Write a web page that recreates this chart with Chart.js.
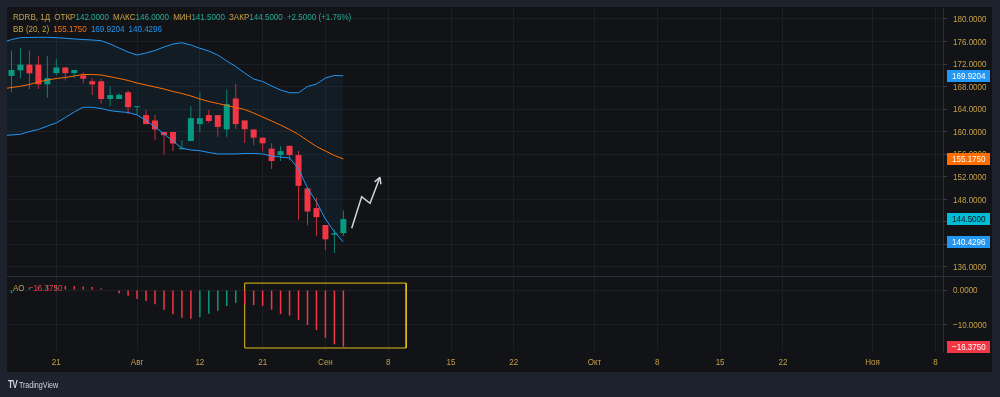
<!DOCTYPE html>
<html lang="ru">
<head>
<meta charset="utf-8">
<title>RDRB, 1Д</title>
<script src="https://cdn.jsdelivr.net/npm/chart.js@4.4.1/dist/chart.umd.min.js"></script>
<style>
  html, body { margin: 0; padding: 0; }
  body {
    width: 1000px; height: 397px; background: #1e222d; position: relative; overflow: hidden;
    font-family: 'Liberation Sans', Arial, sans-serif;
  }
  #box { position: absolute; left: 7px; top: 7px; width: 985px; height: 365px; background: #121316; }
  #mainChart { position: absolute; left: 7px; top: 8px; }
  #aoChart { position: absolute; left: 7px; top: 277px; }
  #sep { position: absolute; left: 7px; top: 276px; width: 985px; height: 1px; background: #2a2e39; }
  .legend {
    position: absolute; left: 13px; font-size: 9.8px; line-height: 12px; color: #c4a04a;
    white-space: nowrap; transform: scaleX(0.82); transform-origin: 0 0;
  }
  .legend .v { margin-right: 5px; }
  #tv { position: absolute; left: 8px; top: 378px; font-size: 9.5px; color: #d1d4dc; transform: scaleX(0.75); transform-origin: 0 0; }
  #tv b { font-size: 11px; letter-spacing: -1px; }
</style>
</head>
<body>
<div id="box"></div>
<canvas id="mainChart" width="986" height="268"></canvas>
<div id="sep"></div>
<canvas id="aoChart" width="986" height="95"></canvas>
<div class="legend" id="legend1" style="top:11px"></div>
<div class="legend" id="legend2" style="top:23px"></div>
<div class="legend" id="legend3" style="top:282px"></div>
<div id="tv"><b>TV</b> TradingView</div>
<script>
// свечи RDRB, 1Д (14.07 – 03.09)
const opens  = [169.9, 170.9, 171.9, 171.9, 168.4, 170.4, 171.4, 170.4, 170.0, 168.95,
                168.95, 165.8, 165.8, 167.0, 164.35, 162.95, 162.0, 159.95, 159.95, 156.9,
                158.35, 161.35, 162.95, 162.95, 160.4, 165.9, 162.0, 160.4, 158.95, 157.0,
                155.85, 157.5, 155.85, 149.95, 146.45, 143.45, 141.75, 142.0];
const highs  = [174.4, 174.9, 174.4, 173.5, 173.4, 172.9, 171.5, 171.0, 170.5, 169.5,
                169.4, 168.0, 166.8, 167.3, 164.5, 163.9, 162.95, 160.0, 160.0, 158.5,
                164.5, 166.95, 163.9, 162.95, 167.5, 168.5, 162.0, 160.4, 158.95, 157.95,
                157.4, 157.5, 156.6, 149.95, 148.35, 143.45, 142.6, 146.0];
const lows   = [167.0, 169.5, 167.6, 167.6, 166.0, 170.0, 169.1, 169.6, 168.6, 166.5,
                165.0, 164.5, 165.8, 163.1, 163.0, 161.35, 158.5, 155.9, 156.6, 156.9,
                158.35, 159.95, 161.55, 159.1, 159.1, 160.5, 158.0, 157.6, 156.5, 153.4,
                154.8, 154.95, 144.4, 143.4, 141.55, 139.0, 138.5, 141.5];
const closes = [170.95, 171.9, 170.35, 168.4, 169.5, 171.4, 170.4, 170.95, 169.4, 168.4,
                165.8, 166.5, 166.55, 164.35, 164.45, 161.35, 160.4, 159.4, 157.9, 157.1,
                162.4, 162.4, 161.9, 160.85, 164.9, 161.35, 160.45, 158.95, 157.95, 154.8,
                156.55, 155.85, 150.4, 145.85, 144.85, 140.9, 142.0, 144.5];

// BB (20, 2): первое значение — бар перед первой видимой свечой
const bbStart = -1;
const bbUpper = [175.83, 176.36, 176.68, 176.72, 176.75, 176.75, 176.68, 176.58, 176.45, 176.36,
                 176.27, 176.15, 175.56, 174.85, 174.14, 173.61, 173.97, 174.41, 175.03, 175.56,
                 175.79, 175.39, 174.80, 174.32, 173.61, 172.55, 171.57, 170.42, 169.35, 168.91,
                 168.11, 167.40, 166.92, 166.92, 168.02, 168.47, 169.53, 169.98, 169.9204];
const bbBasis = [167.58, 167.85, 168.06, 168.38, 168.82, 169.18, 169.44, 169.62, 169.89, 170.15,
                 170.15, 170.06, 169.76, 169.44, 169.09, 168.64, 168.29, 167.93, 167.58, 167.14,
                 166.78, 166.34, 165.81, 165.36, 165.01, 164.65, 164.30, 163.94, 163.32, 162.61,
                 161.90, 161.19, 160.39, 159.51, 158.44, 157.38, 156.58, 155.78, 155.175];
const bbLower = [159.33, 159.42, 159.54, 160.04, 160.39, 161.01, 161.55, 162.52, 163.50, 164.33,
                 164.33, 164.12, 163.73, 163.55, 163.41, 162.97, 161.99, 160.84, 159.60, 158.35,
                 157.06, 156.76, 156.63, 156.31, 156.05, 156.05, 156.05, 156.14, 156.14, 156.05,
                 155.69, 155.51, 155.34, 153.39, 150.01, 147.53, 144.51, 142.21, 140.4296];

// Awesome Oscillator
const aoValues = [-0.95, -0.2, 0.6, 1.0, 1.3, 1.4, 1.2, 1.15, 1.0, 0.9,
                  0.5, 0.15, -0.95, -1.65, -2.6, -3.2, -4.1, -5.8, -7.0, -8.0,
                  -8.3, -7.8, -6.85, -6.0, -4.6, -3.7, -4.1, -4.35, -4.6, -5.7,
                  -6.95, -7.4, -8.7, -10.1, -11.6, -13.8, -15.7, -16.375];

// шкалы
const timeTicks  = [5, 14, 21, 28, 35, 42, 49, 56, 65, 72, 79, 86, 96, 103];
const timeLabels = ['21', 'Авг', '12', '21', 'Сен', '8', '15', '22', 'Окт', '8', '15', '22', 'Ноя', '8'];
const priceTicks = [136, 140, 144, 148, 152, 156, 160, 164, 168, 172, 176, 180];
const aoTicks    = [0, -10];

// рисунки пользователя: стрелка и прямоугольник (бар, цена)
const arrowTimes  = [37.93, 39.04, 39.97, 41.08];
const arrowPrices = [142.86, 148.47, 147.30, 151.91];
const boxTimes  = [26.0, 44.0];
const boxValues = [2.0, -16.76];

// видимый диапазон
const xMin = -0.5, xMax = 103.85;
const priceMin = 134.40, priceMax = 181.95;
const aoMin = -17.63, aoMax = 3.76;

const green = '#089981', red = '#f23645';
const greenWick = '#0a8571', redWick = '#c42e3b';
const gold = '#c4a04a';
const gridColor = '#1d1f24';
const sepColor = '#2a2e39';
const labelFont = '9.8px "Liberation Sans", Arial, sans-serif';
const textScale = 0.82;   // подписи на скриншоте сжаты по горизонтали

Chart.defaults.animation = false;

function fmt(v) {
    return v.toFixed(4).replace('-', '−');
}

function narrowText(ctx, text, x, y, color, align) {
    ctx.save();
    ctx.fillStyle = color;
    ctx.textAlign = align;
    ctx.textBaseline = 'middle';
    ctx.translate(x, y);
    ctx.scale(textScale, 1);
    ctx.fillText(text, 0, 0);
    ctx.restore();
}

const isUp = i => closes[i] >= opens[i];
const bodyColor = ctx => isUp(ctx.dataIndex) ? green : red;
const wickColor = ctx => isUp(ctx.dataIndex) ? greenWick : redWick;
const aoColor = ctx => {
    const i = ctx.dataIndex;
    return (i === 0 || aoValues[i] >= aoValues[i - 1]) ? green : red;
};
const series = (start, values) => values.map((v, i) => ({ x: start + i, y: v }));

// подписи шкал и метки последних значений
const axisText = {
    id: 'axisText',
    afterDraw(chart, args, opts) {
        const ctx = chart.ctx;
        const y = chart.scales.y, x = chart.scales.x;
        const area = chart.chartArea;
        ctx.save();
        ctx.font = labelFont;
        y.ticks.forEach(t => {
            narrowText(ctx, fmt(t.value), area.right + 10, y.getPixelForValue(t.value) + 0.5, gold, 'left');
        });
        if (opts.timeLabels) {
            x.ticks.forEach(t => {
                const label = timeLabels[timeTicks.indexOf(t.value)];
                narrowText(ctx, label, x.getPixelForValue(t.value), area.bottom + 11, gold, 'center');
            });
        }
        opts.items.forEach(it => {
            const py = Math.round(y.getPixelForValue(it.value));
            ctx.fillStyle = it.bg;
            ctx.fillRect(area.right + 4, py - 6, 43, 12);
            narrowText(ctx, fmt(it.value), area.right + 9, py + 0.5, it.fg, 'left');
        });
        ctx.restore();
    }
};

// наконечник стрелки
const arrowHead = {
    id: 'arrowHead',
    afterDatasetsDraw(chart, args, opts) {
        const pts = chart.getDatasetMeta(opts.dataset).data;
        const a = pts[pts.length - 2], b = pts[pts.length - 1];
        const ang = Math.atan2(b.y - a.y, b.x - a.x);
        const ctx = chart.ctx;
        ctx.save();
        ctx.strokeStyle = opts.color;
        ctx.lineWidth = 1.5;
        ctx.beginPath();
        [ang + Math.PI - 0.5, ang + Math.PI + 0.5].forEach(t => {
            ctx.moveTo(b.x, b.y);
            ctx.lineTo(b.x + 7 * Math.cos(t), b.y + 7 * Math.sin(t));
        });
        ctx.stroke();
        ctx.restore();
    }
};

const xAxis = bottomAxis => ({
    type: 'linear',
    min: xMin,
    max: xMax,
    offset: false,
    grid: { color: gridColor, drawTicks: false, offset: false },
    border: { display: false },
    ticks: { display: false },
    afterBuildTicks: s => { s.ticks = timeTicks.map(v => ({ value: v })); },
    afterFit: s => { s.height = bottomAxis ? 21 : 0; }
});

const yAxis = (min, max, ticks) => ({
    type: 'linear',
    position: 'right',
    min: min,
    max: max,
    stacked: false,
    beginAtZero: false,
    grid: { color: gridColor, tickLength: 4, tickColor: '#363a45' },
    border: { color: sepColor },
    ticks: { display: false },
    afterBuildTicks: s => { s.ticks = ticks.map(v => ({ value: v })); },
    afterFit: s => { s.width = 50; }
});

// основной график
new Chart(document.getElementById('mainChart'), {
    type: 'bar',
    data: {
        datasets: [
            {
                type: 'line', label: 'BB upper', data: series(bbStart, bbUpper),
                borderColor: '#2196f3', borderWidth: 1, pointRadius: 0, tension: 0,
                fill: '+2', backgroundColor: 'rgba(33, 150, 243, 0.07)', order: 1
            },
            {
                type: 'line', label: 'BB basis', data: series(bbStart, bbBasis),
                borderColor: '#ff6d00', borderWidth: 1, pointRadius: 0, tension: 0, fill: false, order: 1
            },
            {
                type: 'line', label: 'BB lower', data: series(bbStart, bbLower),
                borderColor: '#2196f3', borderWidth: 1, pointRadius: 0, tension: 0, fill: false, order: 1
            },
            {
                label: 'wicks', data: lows.map((l, i) => ({ x: i, y: [l, highs[i]] })),
                stack: 'candle', barThickness: 1, inflateAmount: 0,
                backgroundColor: wickColor, order: 3
            },
            {
                label: 'bodies', data: opens.map((o, i) => ({ x: i, y: [o, closes[i]] })),
                stack: 'candle', barThickness: 6, minBarLength: 1, inflateAmount: 0,
                backgroundColor: bodyColor, order: 2
            },
            {
                type: 'line', label: 'arrow',
                data: arrowTimes.map((t, i) => ({ x: t, y: arrowPrices[i] })),
                borderColor: '#d1d4dc', borderWidth: 1.5, pointRadius: 0, tension: 0, fill: false, order: 0
            }
        ]
    },
    options: {
        responsive: false,
        layout: { padding: 0, autoPadding: false },
        scales: {
            x: xAxis(false),
            y: yAxis(priceMin, priceMax, priceTicks)
        },
        plugins: {
            legend: { display: false },
            tooltip: { enabled: false },
            filler: { drawTime: 'beforeDatasetsDraw' },
            arrowHead: { dataset: 5, color: '#d1d4dc' },
            axisText: {
                timeLabels: false,
                items: [
                    { value: bbUpper[bbUpper.length - 1], bg: '#2196f3', fg: '#ffffff' },
                    { value: bbBasis[bbBasis.length - 1], bg: '#ff6d00', fg: '#ffffff' },
                    { value: closes[closes.length - 1], bg: '#00bcd4', fg: '#131722' },
                    { value: bbLower[bbLower.length - 1], bg: '#2196f3', fg: '#ffffff' }
                ]
            }
        }
    },
    plugins: [axisText, arrowHead]
});

// AO
new Chart(document.getElementById('aoChart'), {
    type: 'bar',
    data: {
        datasets: [
            {
                label: 'AO', data: series(0, aoValues),
                barThickness: 1.5, inflateAmount: 0, backgroundColor: aoColor
            },
            {
                type: 'line', label: 'box',
                data: [
                    { x: boxTimes[0], y: boxValues[0] }, { x: boxTimes[1], y: boxValues[0] },
                    { x: boxTimes[1], y: boxValues[1] }, { x: boxTimes[0], y: boxValues[1] },
                    { x: boxTimes[0], y: boxValues[0] }
                ],
                borderColor: '#e0c21c', borderWidth: 1, pointRadius: 0, tension: 0, fill: false
            }
        ]
    },
    options: {
        responsive: false,
        layout: { padding: 0, autoPadding: false },
        scales: {
            x: xAxis(true),
            y: yAxis(aoMin, aoMax, aoTicks)
        },
        plugins: {
            legend: { display: false },
            tooltip: { enabled: false },
            axisText: {
                timeLabels: true,
                items: [{ value: aoValues[aoValues.length - 1], bg: red, fg: '#ffffff' }]
            }
        }
    },
    plugins: [axisText]
});

// легенда
const n = closes.length - 1;
const chg = closes[n] - closes[n - 1];
const pct = chg / closes[n - 1] * 100;
const valColor = closes[n] >= opens[n] ? '#22ab94' : red;
const sign = v => (v >= 0 ? '+' : '−') + Math.abs(v).toFixed(2);
document.getElementById('legend1').innerHTML =
    '<span class="v">RDRB, 1Д</span>' +
    'ОТКР<span class="v" style="color:' + valColor + '">' + fmt(opens[n]) + '</span>' +
    'МАКС<span class="v" style="color:' + valColor + '">' + fmt(highs[n]) + '</span>' +
    'МИН<span class="v" style="color:' + valColor + '">' + fmt(lows[n]) + '</span>' +
    'ЗАКР<span class="v" style="color:' + valColor + '">' + fmt(closes[n]) + '</span>' +
    '<span style="color:' + valColor + '">' + (chg >= 0 ? '+' : '−') + Math.abs(chg).toFixed(4) +
    ' (' + sign(pct) + '%)</span>';
document.getElementById('legend2').innerHTML =
    '<span class="v">BB (20, 2)</span>' +
    '<span class="v" style="color:#ff6d00">' + fmt(bbBasis[bbBasis.length - 1]) + '</span>' +
    '<span class="v" style="color:#2196f3">' + fmt(bbUpper[bbUpper.length - 1]) + '</span>' +
    '<span class="v" style="color:#2196f3">' + fmt(bbLower[bbLower.length - 1]) + '</span>';
document.getElementById('legend3').innerHTML =
    '<span class="v">AO</span>' +
    '<span style="color:' + red + '">' + fmt(aoValues[aoValues.length - 1]) + '</span>';
</script>
</body>
</html>
